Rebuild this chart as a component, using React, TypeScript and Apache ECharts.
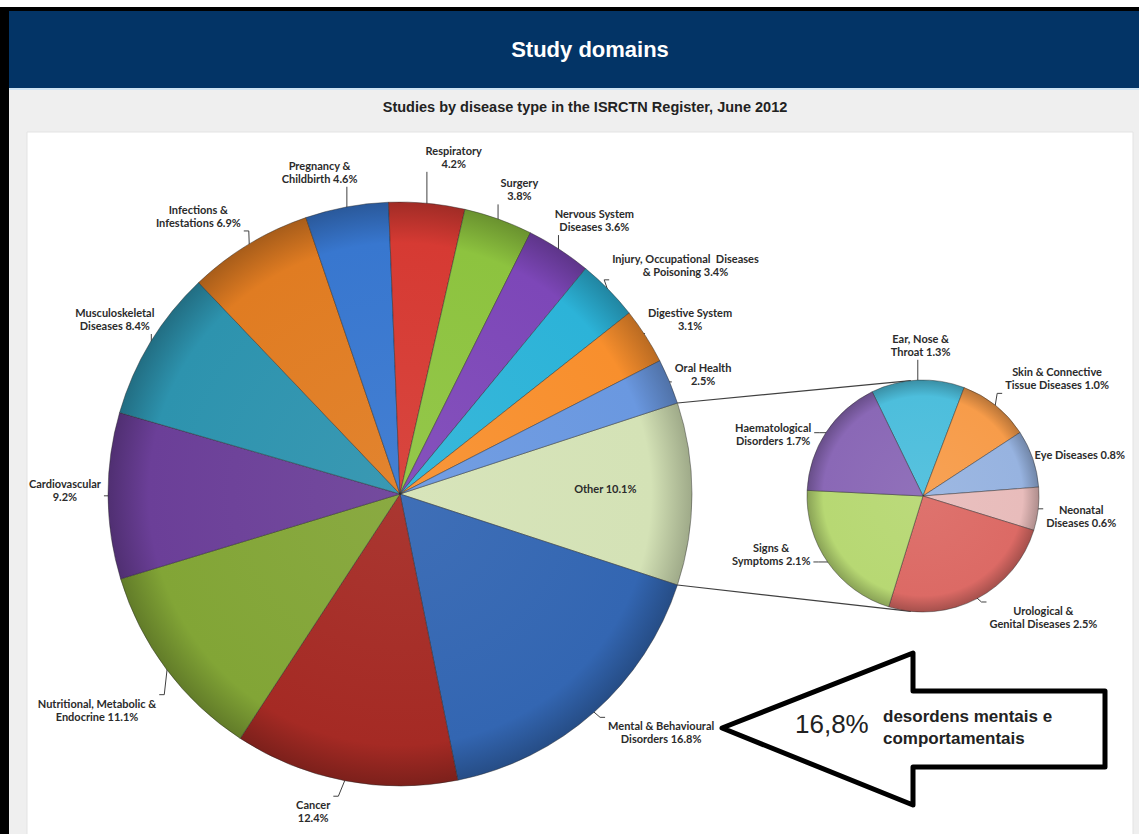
import React, { useEffect, useRef } from "react";
import * as echarts from "echarts";

// Main pie: disease categories, clockwise from "Other" (centred on the right-hand side)
const mainNames = [
  "Other",
  "Mental & Behavioural\nDisorders",
  "Cancer\n",
  "Nutritional, Metabolic &\nEndocrine",
  "Cardiovascular\n",
  "Musculoskeletal\nDiseases",
  "Infections &\nInfestations",
  "Pregnancy &\nChildbirth",
  "Respiratory\n",
  "Surgery\n",
  "Nervous System\nDiseases",
  "Injury, Occupational  Diseases\n& Poisoning",
  "Digestive System\n",
  "Oral Health\n",
];
const mainValues = [10.1, 16.8, 12.4, 11.1, 9.2, 8.4, 6.9, 4.6, 4.2, 3.8, 3.6, 3.4, 3.1, 2.5];
const mainColors = [
  "#d4e2b6", "#3366b2", "#a52a24", "#82a536", "#6b3f98", "#2d93ae", "#e07c22",
  "#3877cf", "#d63a33", "#8dc33f", "#7d47b8", "#2cb3d8", "#f88f2d", "#6a98e0",
];

// Breakdown of "Other"
const otherNames = [
  "Ear, Nose &\nThroat",
  "Skin & Connective\nTissue Diseases",
  "Eye Diseases",
  "Neonatal\nDiseases",
  "Urological &\nGenital Diseases",
  "Signs &\nSymptoms",
  "Haematological\nDisorders",
];
const otherValues = [1.3, 1.0, 0.8, 0.6, 2.5, 2.1, 1.7];
const otherColors = ["#4dbedc", "#f79c4a", "#97b3e0", "#e8bcbb", "#dc6a65", "#b7d873", "#8a68b6"];

const TITLE = "Study domains";
const SUBTITLE = "Studies by disease type in the ISRCTN Register, June 2012";
const CALLOUT_TEXT = "desordens mentais e\ncomportamentais";

// Geometry
const MAIN_C = [400, 494];
const MAIN_R = 292;
const MAIN_GAP = 14;
const SUB_C = [923, 496];
const SUB_R = 116;
const SUB_GAP = 9;
const SUB_START = 116;

// Hand placement of data labels: offsets from the default radial position
const mainLabelNudge = [
  [-2, -6], [28, -24], [-26, 1], [-14, -1], [7, -6], [11, 5], [-26, 12],
  [-21, -2], [24, -17], [10, 1], [10, 10], [23, 28], [-3, 13], [-8, 10],
];
const subLabelNudge = [[4, -12], [29, 13], [-4, 13], [-2, 2], [45, -22], [-17, -36], [-13, 28]];

const sum = (a: number[]) => a.reduce((s, v) => s + v, 0);

function midAngles(values: number[], start: number) {
  const total = sum(values);
  let acc = 0;
  return values.map((v) => {
    const a = start - ((acc + v / 2) / total) * 360;
    acc += v;
    return a;
  });
}

function shade(hex: string, f: number) {
  const n = parseInt(hex.slice(1), 16);
  let r = (n >> 16) & 255, g = (n >> 8) & 255, b = n & 255;
  const t = f < 0 ? 0 : 255;
  const p = Math.abs(f);
  r = Math.round((t - r) * p + r);
  g = Math.round((t - g) * p + g);
  b = Math.round((t - b) * p + b);
  return `rgb(${r},${g},${b})`;
}

function sliceFill(base: string, c: number[], r: number) {
  return new echarts.graphic.RadialGradient(
    c[0], c[1], r,
    [
      { offset: 0, color: shade(base, 0.06) },
      { offset: 0.86, color: base },
      { offset: 1, color: shade(base, -0.25) },
    ],
    true
  );
}

const fmtLabel = (name: string, value: number) =>
  `${name}${name.endsWith("\n") ? "" : " "}${value.toFixed(1)}%`;

const clamp = (v: number, lo: number, hi: number) => Math.max(lo, Math.min(hi, v));

function makeLayout(
  c: number[], R: number, gap: number, mids: number[], nudge: number[][], insideIndex: number
) {
  return (p: any) => {
    const i = p.dataIndex;
    const a = (mids[i] * Math.PI) / 180;
    const ux = Math.cos(a);
    const uy = -Math.sin(a);
    const [nx, ny] = nudge[i] || [0, 0];
    if (i === insideIndex) {
      return {
        x: c[0] + ux * R * 0.71 + nx,
        y: c[1] + uy * R * 0.71 + ny,
        align: "center",
        verticalAlign: "middle",
      };
    }
    const w = p.labelRect.width;
    const h = p.labelRect.height;
    const d = R + gap + (Math.abs(ux) * w) / 2 + (Math.abs(uy) * h) / 2;
    const lx = c[0] + ux * d + nx;
    const ly = c[1] + uy * d + ny;
    // leader: from the rim to the nearest edge of the label box, with a short elbow at the side
    const p0 = [c[0] + ux * (R - 1), c[1] + uy * (R - 1)];
    const left = lx - w / 2 - 3, right = lx + w / 2 + 3;
    const top = ly - h / 2 - 2, bottom = ly + h / 2 + 2;
    const ax = clamp(p0[0], left, right);
    const ay = clamp(p0[1], top, bottom);
    let pts;
    if (p0[0] < left || p0[0] > right) {
      const s = p0[0] < left ? -1 : 1;
      pts = [p0, [ax + s * 5, ay], [ax, ay]];
    } else {
      pts = [p0, [ax, ay], [ax, ay]];
    }
    return {
      x: lx,
      y: ly,
      align: "center",
      verticalAlign: "middle",
      labelLinePoints: pts,
    };
  };
}

const labelStyle = {
  fontFamily: "Lato",
  fontWeight: "bold" as const,
  fontSize: 11,
  lineHeight: 13,
  color: "#2b2b2b",
};

export default function App() {
  const ref = useRef<HTMLDivElement>(null);

  useEffect(() => {
    document.body.style.margin = "0";
    if (!ref.current) return;
    const chart = echarts.init(ref.current, undefined, { renderer: "svg" });

    const mainStart = (mainValues[0] / sum(mainValues)) * 180;
    const mainMid = midAngles(mainValues, mainStart);
    const subMid = midAngles(otherValues, SUB_START);

    const rad = (d: number) => (d * Math.PI) / 180;
    const topA = rad(mainStart);
    const botA = rad(-mainStart);
    const mainTop = [MAIN_C[0] + MAIN_R * Math.cos(topA), MAIN_C[1] - MAIN_R * Math.sin(topA)];
    const mainBot = [MAIN_C[0] + MAIN_R * Math.cos(botA), MAIN_C[1] - MAIN_R * Math.sin(botA)];
    const subTop = [SUB_C[0] + SUB_R * Math.cos(rad(96)), SUB_C[1] - SUB_R * Math.sin(rad(96))];
    const subBot = [SUB_C[0] + SUB_R * Math.cos(rad(-96)), SUB_C[1] - SUB_R * Math.sin(rad(-96))];

    const calloutValue = `${mainValues[1].toFixed(1).replace(".", ",")}%`;

    const option: any = {
      animation: false,
      backgroundColor: "#efefef",
      graphic: {
        elements: [
          { type: "rect", z: 0, shape: { x: 0, y: 0, width: 1139, height: 7 }, style: { fill: "#ffffff" } },
          { type: "rect", z: 0, shape: { x: 0, y: 7, width: 1139, height: 4 }, style: { fill: "#000000" } },
          { type: "rect", z: 0, shape: { x: 0, y: 7, width: 9, height: 827 }, style: { fill: "#000000" } },
          { type: "rect", z: 0, shape: { x: 9, y: 11, width: 1130, height: 77 }, style: { fill: "#033466" } },
          { type: "rect", z: 0, shape: { x: 9, y: 88, width: 1130, height: 2 }, style: { fill: "#cfe4f3" } },
          {
            type: "rect", z: 0,
            shape: { x: 27, y: 132, width: 1106, height: 710 },
            style: { fill: "#ffffff", stroke: "#e3e3e3", lineWidth: 1 },
          },
          {
            type: "text", z: 1, x: 590, y: 49,
            style: {
              text: TITLE, fill: "#ffffff", fontFamily: "Liberation Sans", fontWeight: "bold",
              fontSize: 22, align: "center", verticalAlign: "middle",
            },
          },
          {
            type: "text", z: 1, x: 585, y: 107,
            style: {
              text: SUBTITLE, fill: "#222222", fontFamily: "Liberation Sans", fontWeight: "bold",
              fontSize: 14.5, align: "center", verticalAlign: "middle",
            },
          },
          {
            type: "line", z: 1,
            shape: { x1: mainTop[0], y1: mainTop[1], x2: subTop[0], y2: subTop[1] },
            style: { stroke: "#404040", lineWidth: 1.2 },
          },
          {
            type: "line", z: 1,
            shape: { x1: mainBot[0], y1: mainBot[1], x2: subBot[0], y2: subBot[1] },
            style: { stroke: "#404040", lineWidth: 1.2 },
          },
          {
            type: "polygon", z: 20,
            shape: {
              points: [
                [722, 728], [913, 653], [913, 691], [1105, 691],
                [1105, 767], [913, 767], [913, 805],
              ],
            },
            style: { fill: "#ffffff", stroke: "#000000", lineWidth: 5, lineJoin: "round" },
          },
          {
            type: "text", z: 21, x: 795, y: 724,
            style: {
              text: calloutValue, fill: "#222222", fontFamily: "Liberation Sans",
              fontSize: 26, align: "left", verticalAlign: "middle",
            },
          },
          {
            type: "text", z: 21, x: 883, y: 727,
            style: {
              text: CALLOUT_TEXT, fill: "#222222", fontFamily: "Liberation Sans", fontWeight: "bold",
              fontSize: 17, lineHeight: 22, align: "left", verticalAlign: "middle",
            },
          },
        ],
      },
      series: [
        {
          type: "pie",
          z: 5,
          center: MAIN_C,
          radius: MAIN_R,
          startAngle: mainStart,
          clockwise: true,
          avoidLabelOverlap: false,
          label: {
            show: true,
            position: "outside",
            ...labelStyle,
            formatter: (p: any) => fmtLabel(p.name, p.value),
          },
          labelLine: { show: true, length: 8, length2: 4, lineStyle: { color: "#404040", width: 1 } },
          labelLayout: makeLayout(MAIN_C, MAIN_R, MAIN_GAP, mainMid, mainLabelNudge, 0),
          emphasis: { disabled: true },
          data: mainValues.map((v, i) => ({
            name: mainNames[i],
            value: v,
            itemStyle: {
              color: sliceFill(mainColors[i], MAIN_C, MAIN_R),
              borderColor: "rgba(40,40,40,0.55)",
              borderWidth: 0.8,
            },
            ...(i === 0
              ? { label: { position: "inside" }, labelLine: { show: false } }
              : {}),
          })),
        },
        {
          type: "pie",
          z: 5,
          center: SUB_C,
          radius: SUB_R,
          startAngle: SUB_START,
          clockwise: true,
          avoidLabelOverlap: false,
          label: {
            show: true,
            position: "outside",
            ...labelStyle,
            formatter: (p: any) => fmtLabel(p.name, p.value),
          },
          labelLine: { show: true, length: 6, length2: 4, lineStyle: { color: "#404040", width: 1 } },
          labelLayout: makeLayout(SUB_C, SUB_R, SUB_GAP, subMid, subLabelNudge, -1),
          emphasis: { disabled: true },
          data: otherValues.map((v, i) => ({
            name: otherNames[i],
            value: v,
            itemStyle: {
              color: sliceFill(otherColors[i], SUB_C, SUB_R),
              borderColor: "rgba(40,40,40,0.55)",
              borderWidth: 0.8,
            },
          })),
        },
      ],
    };

    chart.setOption(option);
    return () => chart.dispose();
  }, []);

  return <div ref={ref} style={{ width: 1139, height: 834 }} />;
}
